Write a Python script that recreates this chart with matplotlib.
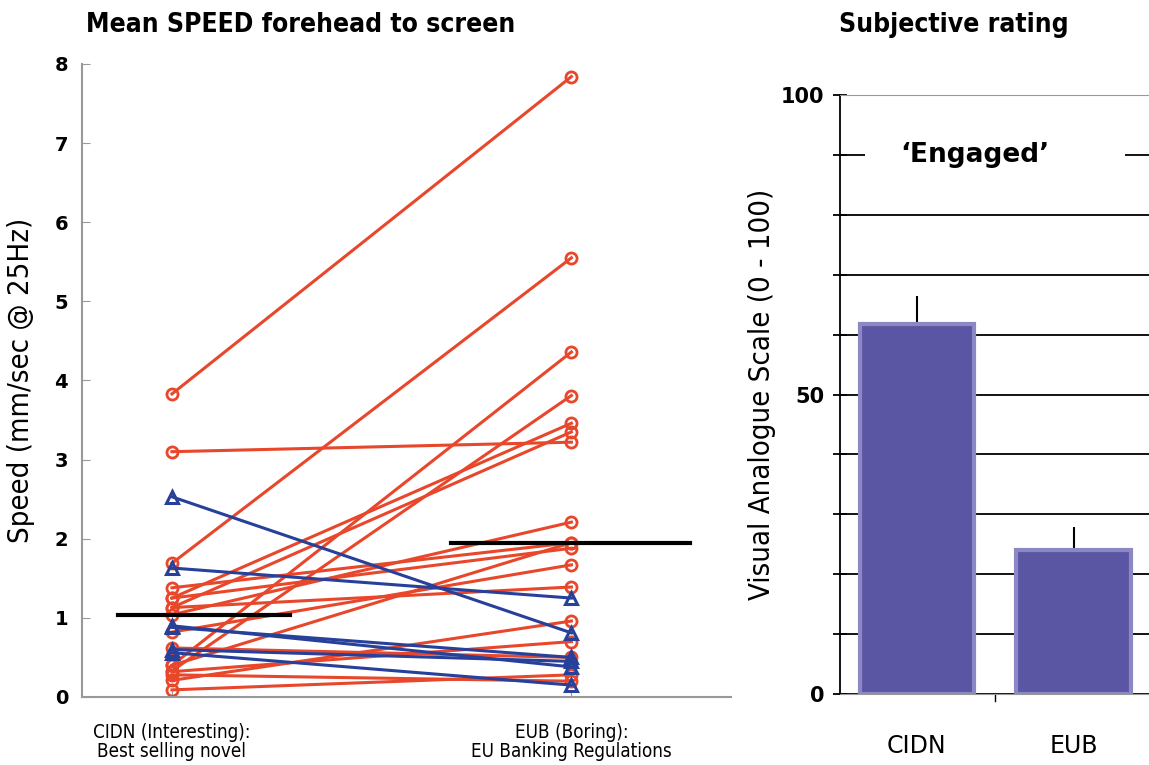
import matplotlib.pyplot as plt
from matplotlib.patches import Rectangle

# left panel: per-subject speed (mm/sec), CIDN -> EUB
red_cidn = [3.83, 3.10, 1.69, 0.40, 0.33, 1.25, 1.13, 1.04, 1.38, 1.25, 0.82,
            1.13, 0.21, 0.09, 0.32, 0.62, 0.40, 0.28]
red_eub = [7.84, 3.22, 5.55, 4.36, 3.81, 3.46, 3.35, 2.21, 1.95, 1.88, 1.67,
           1.39, 0.96, 0.28, 0.70, 0.50, 1.95, 0.20]
blue_cidn = [2.53, 1.63, 0.88, 0.60, 0.56, 0.90]
blue_eub = [0.81, 1.25, 0.50, 0.45, 0.15, 0.38]
mean_cidn = 1.04
mean_eub = 1.95
speed_labels = ["CIDN (Interesting):\nBest selling novel",
                "EUB (Boring):\nEU Banking Regulations"]

# right panel: subjective rating 'Engaged'
rating_groups = ["CIDN", "EUB"]
rating_mean = [61.8, 24.0]
rating_err = [4.6, 3.9]

RED = "#e8472b"
BLUE = "#27409a"
cond = dict(fontstretch="condensed")

fig = plt.figure(figsize=(11.49, 7.65), dpi=100)

# ---- left panel ----
ax = fig.add_axes([0.0714, 0.0889, 0.565, 0.8275])
for a, b in zip(red_cidn, red_eub):
    ax.plot([1, 2], [a, b], color=RED, lw=2.2, marker="o", ms=8, mfc="none",
            mec=RED, mew=2, zorder=2)
for a, b in zip(blue_cidn, blue_eub):
    ax.plot([1, 2], [a, b], color=BLUE, lw=2.2, marker="^", ms=8, mfc="none",
            mec=BLUE, mew=2.2, zorder=3)
ax.plot([0.864, 1.295], [mean_cidn, mean_cidn], color="black", lw=3, zorder=4)
ax.plot([1.698, 2.297], [mean_eub, mean_eub], color="black", lw=3, zorder=4)

ax.set_xlim(0.775, 2.4)
ax.set_ylim(0, 8)
ax.set_yticks(range(0, 9))
ax.set_yticklabels([str(i) for i in range(9)], fontsize=14, fontweight="bold")
ax.set_xticks([1, 2])
ax.set_xticklabels(speed_labels, fontsize=13.5, linespacing=1.0, **cond)
ax.tick_params(axis="y", direction="in", length=6, color="#999999", pad=10)
ax.tick_params(axis="x", direction="in", length=5, color="#999999", pad=19)
for s in ["top", "right"]:
    ax.spines[s].set_visible(False)
for s in ["left", "bottom"]:
    ax.spines[s].set_color("#999999")
    ax.spines[s].set_linewidth(1.5)
ax.set_ylabel("Speed (mm/sec @ 25Hz)", fontsize=21, labelpad=14, **cond)
fig.text(0.262, 0.967, "Mean SPEED forehead to screen", ha="center", va="center",
         fontsize=19, fontweight="bold", **cond)

# ---- right panel ----
bx = fig.add_axes([0.731, 0.0928, 0.269, 0.783])
bx.yaxis.grid(True, color="black", lw=1.3, zorder=0)
bx.set_axisbelow(True)
bx.bar([0, 1], rating_mean, width=0.73, color="#5a56a3", edgecolor="#8c88c6",
       linewidth=3, zorder=3)
bx.errorbar([0, 1], rating_mean, yerr=[[0, 0], rating_err], fmt="none",
            ecolor="black", elinewidth=1.5, capsize=0, zorder=2)
bx.set_xlim(-0.49, 1.48)
bx.set_ylim(0, 100)
bx.set_yticks(range(0, 101, 10))
bx.set_yticklabels(["0", "", "", "", "", "50", "", "", "", "", "100"],
                   fontsize=15, fontweight="bold")
bx.tick_params(axis="y", direction="inout", length=10, width=1.3, pad=6)
bx.set_xticks([0, 1])
bx.set_xticklabels(rating_groups, fontsize=17)
bx.tick_params(axis="x", length=0, pad=29)
bx.spines["right"].set_visible(False)
bx.spines["top"].set_color("#999999")
bx.spines["left"].set_linewidth(1.3)
bx.spines["bottom"].set_color("#999999")
bx.axvline(0.5, ymin=-0.012, ymax=0.0, color="black", lw=1, clip_on=False)
bx.set_ylabel("Visual Analogue Scale (0 - 100)", fontsize=21, labelpad=4, **cond)
bx.add_patch(Rectangle((-0.33, 86), 1.655, 8, facecolor="white",
                       edgecolor="none", zorder=1))
bx.text(0.37, 90, "\u2018Engaged\u2019", ha="center", va="center", fontsize=19,
        fontweight="bold", zorder=5)
fig.text(0.83, 0.967, "Subjective rating", ha="center", va="center",
         fontsize=19, fontweight="bold", **cond)

fig.savefig("out.png", dpi=100)
